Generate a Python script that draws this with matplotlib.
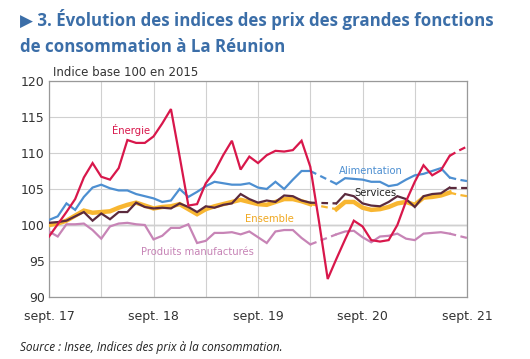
import numpy as np
import matplotlib
matplotlib.use("Agg")
import matplotlib.pyplot as plt

nan = np.nan
months = np.arange(49)  # sept. 2017 -> sept. 2021
tick_pos = [0, 12, 24, 36, 48]
tick_labels = ["sept. 17", "sept. 18", "sept. 19", "sept. 20", "sept. 21"]

energie = [98.4, 100.1, 101.8, 103.6, 106.6, 108.6, 106.7, 106.3, 107.9, 111.8,
           111.4, 111.4, 112.3, 114.1, 116.1, 109.5, 102.7, 102.9, 105.8, 107.4,
           109.7, 111.7, 107.7, 109.5, 108.6, 109.7, 110.3, 110.2, 110.4, 111.7,
           108.1, 100.5, 92.5, 95.3, 98.0, 100.6, 99.8, 97.9, 97.7, 97.9,
           100.0, 103.3, 106.0, 108.3, 106.9, 107.6, 109.6, 110.3, 110.9]
alimentation = [100.7, 101.2, 103.0, 102.1, 103.9, 105.2, 105.6, 105.1, 104.8, 104.8,
                104.3, 104.0, 103.7, 103.2, 103.4, 105.0, 103.9, 104.6, 105.4, 106.0,
                105.8, 105.6, 105.6, 105.8, 105.2, 105.0, 106.0, 105.0, 106.3, 107.5,
                107.5, nan, nan, 105.7, 106.5, 106.4, 106.3, 106.0, 106.0, 105.4,
                105.6, 106.3, 106.9, 107.1, 107.5, 107.9, 106.6, 106.3, 106.1]
services = [100.3, 100.4, 100.6, 101.2, 101.8, 100.6, 101.6, 100.8, 101.8, 101.8,
            103.1, 102.5, 102.3, 102.4, 102.3, 103.0, 102.5, 101.8, 102.6, 102.4,
            102.8, 103.0, 104.3, 103.6, 103.1, 103.4, 103.2, 104.1, 104.0, 103.4,
            103.1, nan, nan, 103.0, 104.3, 104.0, 103.0, 102.7, 102.6, 103.2,
            104.0, 103.6, 102.5, 104.0, 104.3, 104.4, 105.2, 105.2, 105.2]
ensemble = [100.0, 100.2, 100.6, 101.3, 102.0, 101.7, 101.8, 101.9, 102.4, 102.8,
            103.1, 102.7, 102.3, 102.5, 102.6, 102.9, 102.2, 101.5, 102.2, 102.6,
            102.9, 103.2, 103.5, 103.2, 102.9, 102.8, 103.2, 103.6, 103.6, 103.3,
            102.9, nan, nan, 102.2, 103.2, 103.2, 102.4, 102.1, 102.2, 102.5,
            103.0, 103.2, 102.8, 103.8, 103.9, 104.1, 104.5, 104.2, 104.0]
produits = [99.1, 98.4, 100.1, 100.1, 100.2, 99.3, 98.1, 99.8, 100.2, 100.3,
            100.1, 100.0, 98.0, 98.5, 99.6, 99.6, 100.1, 97.5, 97.8, 98.9,
            98.9, 99.0, 98.7, 99.1, 98.3, 97.5, 99.1, 99.3, 99.3, 98.2,
            97.3, nan, nan, 98.7, 99.1, 99.2, 98.3, 97.6, 98.4, 98.5,
            98.8, 98.1, 97.9, 98.8, 98.9, 99.0, 98.8, 98.5, 98.2]

fig = plt.figure(figsize=(5.30, 3.59), dpi=100)
ax = fig.add_axes([0.0925, 0.1727, 0.7887, 0.6017])

series = [
    (produits, "#c784b6", 1.6, True),
    (ensemble, "#f8b631", 3.2, True),
    (alimentation, "#4d8fd1", 1.6, True),
    (services, "#5b2a3d", 1.6, True),
    (energie, "#d8174b", 1.6, False),
]

for z, (vals, col, lw, gap) in enumerate(series):
    y = np.array(vals, dtype=float)
    ax.plot(months[:47], y[:47], color=col, lw=lw, zorder=3 + z,
            solid_joinstyle="miter")
    ax.plot(months[46:], y[46:], color=col, lw=1.6, ls=(0, (3, 2)), zorder=3 + z)
    if gap:
        ax.plot(months[[30, 33]], y[[30, 33]], color=col, lw=1.6,
                ls=(0, (3, 2)), zorder=3 + z)

ax.set_xlim(0, 48)
ax.set_ylim(90, 120)
ax.set_yticks(range(90, 121, 5))
ax.set_xticks(tick_pos)
ax.set_xticklabels(tick_labels)
ax.set_xticks(range(0, 49, 6), minor=True)
ax.grid(True, which="both", color="#d0d0d0", lw=0.8, zorder=0)
ax.axhline(100, color="#777777", lw=0.9, zorder=1)
ax.tick_params(which="both", length=0, labelsize=9, colors="#333333", pad=3)
ax.tick_params(axis="x", pad=9)
for s in ax.spines.values():
    s.set_color("#999999")
    s.set_linewidth(0.9)

ax.text(0.5, 120.3, "Indice base 100 en 2015", fontsize=8.5, color="#333333",
        va="bottom", ha="left")

lab = dict(fontsize=7.2, ha="center", va="center")
ax.text(9.4, 113.2, "Énergie", color="#d8174b", **lab)
ax.text(37.0, 107.5, "Alimentation", color="#4d8fd1", **lab)
ax.text(37.5, 104.5, "Services", color="#222222", **lab)
ax.text(25.3, 100.9, "Ensemble", color="#f0a820", **lab)
ax.text(17.0, 96.3, "Produits manufacturés", color="#c784b6", **lab)

fig.text(0.038, 0.975, "▶ 3. Évolution des indices des prix des grandes fonctions\nde consommation à La Réunion",
         family=["Open Sans", "DejaVu Sans"], fontweight="bold", fontsize=12.2,
         color="#3b6ea8", va="top", ha="left", linespacing=1.55)
fig.text(0.038, 0.033, "Source : Insee, Indices des prix à la consommation.",
         family="Open Sans", style="italic", fontsize=8.5, color="#222222",
         va="center", ha="left")

fig.savefig("out.png", dpi=100)
